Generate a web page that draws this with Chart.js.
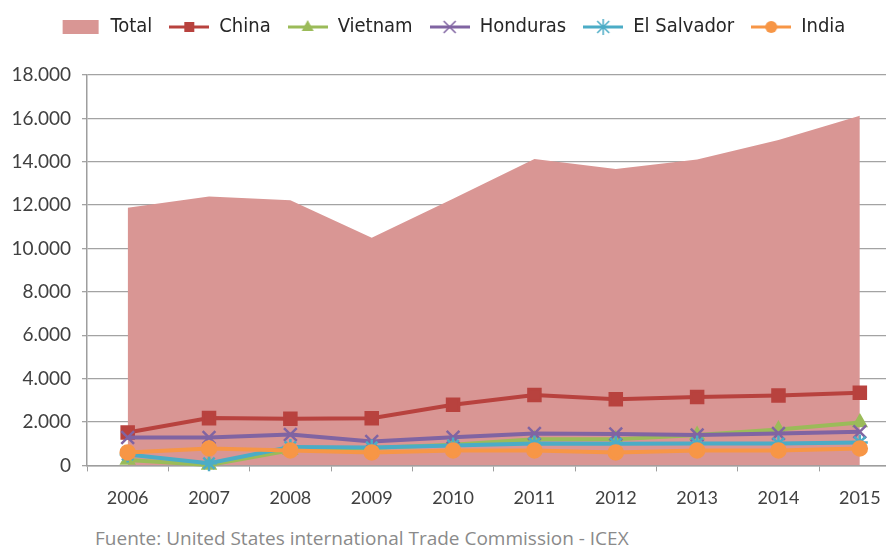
<!DOCTYPE html>
<html>
<head>
<meta charset="utf-8">
<script src="https://cdn.jsdelivr.net/npm/chart.js@4/dist/chart.umd.min.js"></script>
<style>
  html, body { margin: 0; padding: 0; background: #fff; overflow: hidden; }
  #wrap { position: relative; width: 912px; height: 525px; }
  #fuente { position: absolute; left: 95px; top: 525px; font-family: "Open Sans", sans-serif; font-size: 19px; color: #8a8a8a; white-space: nowrap; }
</style>
</head>
<body>
<div id="wrap"><canvas id="mycanvas"></canvas></div>
<div id="fuente">Fuente: United States international Trade Commission - ICEX</div>
<script>
// years and values (units, thousand separator "." in the ticks)
var years = ["2006", "2007", "2008", "2009", "2010", "2011", "2012", "2013", "2014", "2015"];
var total = [11880, 12400, 12230, 10500, 12300, 14130, 13670, 14100, 15000, 16120];
var china = [1520, 2180, 2150, 2170, 2800, 3250, 3050, 3150, 3220, 3350];
var vietnam = [250, 20, 700, 800, 950, 1200, 1200, 1400, 1650, 1980];
var honduras = [1290, 1290, 1420, 1100, 1300, 1470, 1450, 1400, 1470, 1550];
var elSalvador = [500, 100, 850, 830, 920, 1010, 1000, 1010, 1010, 1060];
var india = [600, 780, 690, 600, 690, 690, 600, 690, 690, 780];
var yMax = 18000;
var yStep = 2000;

var cTotal = "#d99694";
var cChina = "#b8423e";
var cVietnam = "#9bbb59";
var cHonduras = "#8064a2";
var cSalvador = "#4bacc6";
var cIndia = "#f79646";

function fmt(v) {
  return String(v).replace(/\B(?=(\d{3})+(?!\d))/g, ".");
}

// little legend icons: line + marker, like the Excel legend
function icon(color, kind) {
  var c = document.createElement("canvas");
  c.width = 40; c.height = 16;
  var g = c.getContext("2d");
  if (kind == "area") {
    g.fillStyle = color;
    g.fillRect(2, 1, 36, 14);
    return c;
  }
  g.strokeStyle = color;
  g.fillStyle = color;
  g.lineWidth = 3;
  g.beginPath(); g.moveTo(0, 8); g.lineTo(40, 8); g.stroke();
  g.lineWidth = 1.5;
  if (kind == "rect") {
    g.fillRect(15, 3, 10, 10);
  } else if (kind == "triangle") {
    g.beginPath(); g.moveTo(20, 1); g.lineTo(26, 12); g.lineTo(14, 12); g.closePath(); g.fill();
  } else if (kind == "crossRot") {
    g.beginPath(); g.moveTo(14, 2); g.lineTo(26, 14); g.moveTo(26, 2); g.lineTo(14, 14); g.stroke();
  } else if (kind == "star") {
    g.beginPath();
    g.moveTo(14, 2); g.lineTo(26, 14); g.moveTo(26, 2); g.lineTo(14, 14);
    g.moveTo(20, 0); g.lineTo(20, 16);
    g.stroke();
  } else if (kind == "circle") {
    g.beginPath(); g.arc(20, 8, 6, 0, Math.PI * 2); g.fill();
  }
  return c;
}

var icons = [
  icon(cTotal, "area"),
  icon(cChina, "rect"),
  icon(cVietnam, "triangle"),
  icon(cHonduras, "crossRot"),
  icon(cSalvador, "star"),
  icon(cIndia, "circle")
];

function lineSet(label, data, color, style, radius, order) {
  return {
    type: "line",
    label: label,
    data: data,
    borderColor: color,
    backgroundColor: color,
    pointBackgroundColor: color,
    pointBorderColor: color,
    borderWidth: 4,
    pointStyle: style,
    pointRadius: radius,
    pointBorderWidth: 2.5,
    tension: 0,
    fill: false,
    clip: false,
    order: order
  };
}

var chartdata = {
  labels: years,
  datasets: [
    {
      type: "line",
      label: "Total",
      data: total,
      backgroundColor: cTotal,
      borderWidth: 0,
      pointRadius: 0,
      fill: "origin",
      tension: 0,
      order: 10
    },
    lineSet("China", china, cChina, "rect", 8.5, 5),
    lineSet("Vietnam", vietnam, cVietnam, "triangle", 7, 4),
    lineSet("Honduras", honduras, cHonduras, "crossRot", 9, 3),
    lineSet("El Salvador", elSalvador, cSalvador, "star", 8, 2),
    lineSet("India", india, cIndia, "circle", 7, 1)
  ]
};

// extra room under the legend
var legendGap = {
  id: "legendGap",
  beforeInit: function(chart) {
    var fit = chart.legend.fit;
    chart.legend.fit = function() {
      fit.bind(chart.legend)();
      this.height += 28;
    };
  }
};

var ctx = document.getElementById("mycanvas");

var LineGraph = new Chart(ctx, {
  type: "line",
  data: chartdata,
  plugins: [legendGap],
  options: {
    responsive: true,
    maintainAspectRatio: false,
    animation: false,
    layout: { padding: { left: 0, right: 6, top: 0, bottom: 0 } },
    plugins: {
      tooltip: { enabled: false },
      legend: {
        position: "top",
        labels: {
          usePointStyle: true,
          pointStyleWidth: 40,
          boxHeight: 16,
          padding: 17,
          color: "#262626",
          font: { family: "'Liberation Sans Narrow', 'DejaVu Sans Condensed', sans-serif", size: 20 },
          generateLabels: function(chart) {
            return chart.data.datasets.map(function(ds, i) {
              return {
                text: ds.label,
                pointStyle: icons[i],
                fillStyle: "rgba(0,0,0,0)",
                strokeStyle: "rgba(0,0,0,0)",
                lineWidth: 0,
                hidden: false,
                datasetIndex: i,
                fontColor: "#262626"
              };
            });
          }
        }
      }
    },
    scales: {
      x: {
        offset: true,
        grid: { offset: true, drawOnChartArea: false, drawTicks: true, tickLength: 6, color: "#9e9e9e" },
        border: { display: true, color: "#9e9e9e", width: 1.5 },
        ticks: { color: "#404040", padding: 16, font: { family: "Lato, sans-serif", size: 18 } }
      },
      y: {
        min: 0,
        max: yMax,
        afterFit: function(scale) { scale.width = 87; },
        grid: { color: "#a3a3a3", lineWidth: 1.3, tickLength: 5 },
        border: { display: true, color: "#9e9e9e", width: 1.5 },
        ticks: {
          stepSize: yStep,
          color: "#404040",
          padding: 11,
          font: { family: "Lato, sans-serif", size: 19 },
          callback: function(v) { return fmt(v); }
        }
      }
    }
  }
});
</script>
</body>
</html>
